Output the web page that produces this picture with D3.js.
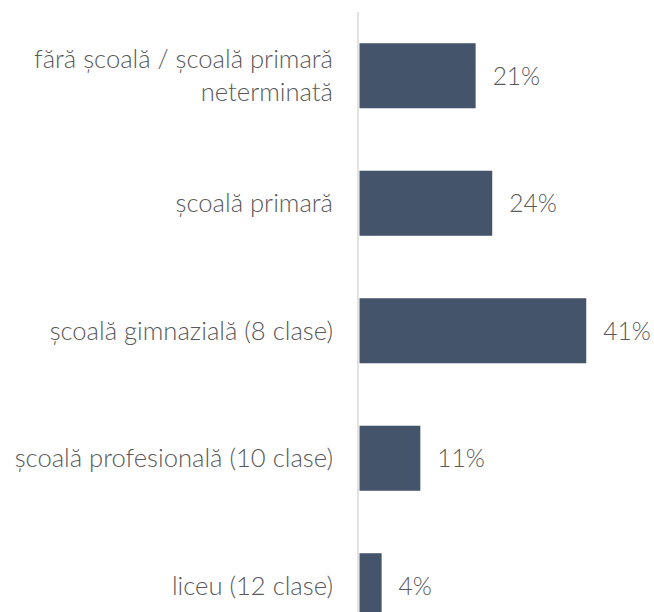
<!DOCTYPE html>
<html>
<head>
<meta charset="utf-8">
<script src="https://cdn.jsdelivr.net/npm/d3@7"></script>
<style>
  html, body { margin: 0; padding: 0; background: #fff; overflow: hidden; }
  svg { display: block; font-family: Lato, "Open Sans", sans-serif; font-weight: 300; }
</style>
</head>
<body>
<svg width="654" height="612"></svg>
<script>
// categories (top to bottom) and their share in percent
var categories = [
    ["fără școală / școală primară", "neterminată"],
    ["școală primară"],
    ["școală gimnazială (8 clase)"],
    ["școală profesională (10 clase)"],
    ["liceu (12 clase)"]
];
var values = [21, 24, 41, 11, 4];
var valueLabels = ["21%", "24%", "41%", "11%", "4%"];

var axisX = 358;
var fontSize = 25.6;
var valSize = 24.5;
var lineGap = 33;

var svg = d3.select("svg");

var keys = categories.map(function(c, i) { return i; });

var scaleY = d3.scaleBand()
    .domain(keys)
    .range([12, 12 + 5 * 127.5])
    .paddingInner(0.49)
    .paddingOuter(0.245);

var scaleX = d3.scaleLinear()
    .domain([0, 45])
    .range([axisX + 1.5, axisX + 1.5 + 45 * 5.53]);

// bars
svg.selectAll(".bar")
    .data(values)
    .enter().append("rect")
        .attr("class", "bar")
        .attr("x", scaleX(0))
        .attr("y", function(d, i) { return scaleY(i); })
        .attr("width", function(d) { return scaleX(d) - scaleX(0); })
        .attr("height", scaleY.bandwidth())
        .attr("fill", "#44546A");

// vertical axis line
svg.append("line")
    .attr("x1", axisX).attr("x2", axisX)
    .attr("y1", scaleY.range()[0]).attr("y2", scaleY.range()[1])
    .attr("stroke", "#D9D9D9")
    .attr("stroke-width", 1.5);

// category labels
var cat = svg.selectAll(".cat")
    .data(categories)
    .enter().append("text")
        .attr("class", "cat")
        .attr("text-anchor", "end")
        .attr("font-size", fontSize)
        .attr("fill", "#595959");

cat.each(function(lines, i) {
    var t = d3.select(this);
    var mid = scaleY(i) + scaleY.bandwidth() / 2;
    var first = mid - (lines.length - 1) * lineGap / 2 + fontSize * 0.35;
    lines.forEach(function(l, j) {
        t.append("tspan")
            .attr("x", axisX - 25)
            .attr("y", first + j * lineGap)
            .text(l);
    });
});

// value labels
svg.selectAll(".val")
    .data(values)
    .enter().append("text")
        .attr("class", "val")
        .attr("x", function(d) { return scaleX(d) + 17; })
        .attr("y", function(d, i) { return scaleY(i) + scaleY.bandwidth() / 2 + valSize * 0.36; })
        .attr("font-size", valSize)
        .attr("fill", "#595959")
        .text(function(d, i) { return valueLabels[i]; });
</script>
</body>
</html>
